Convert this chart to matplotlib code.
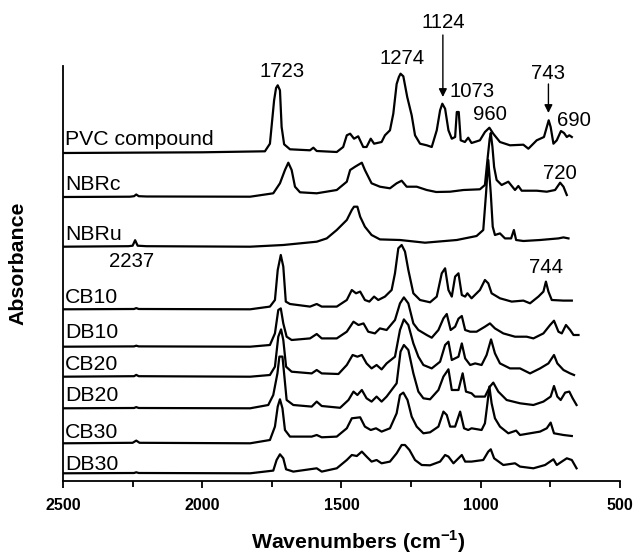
import matplotlib.pyplot as plt
import numpy as np

plt.rcParams['font.family'] = ['Liberation Sans', 'DejaVu Sans']
plt.rcParams['mathtext.fontset'] = 'custom'
plt.rcParams['mathtext.rm'] = 'Liberation Sans'
plt.rcParams['mathtext.bf'] = 'Liberation Sans:bold'

# spectra: (wavenumber cm-1, absorbance in arbitrary units above own baseline)
pvc = [(2500, 0), (2000, 0.7), (1775, 1.7), (1757, 9.3), (1742, 52.7), (1735, 65), (1729, 67.7),
       (1721, 62.7), (1715, 26), (1706, 8.7), (1685, 3.7), (1613, 2.7), (1601, 5.3), (1589, 2),
       (1517, 1), (1494, 6), (1481, 17.7), (1469, 19.3), (1455, 14.3), (1440, 16.7), (1422, 6),
       (1410, 6), (1395, 14.3), (1383, 9.3), (1356, 11), (1344, 17.7), (1326, 22.7), (1314, 39.3),
       (1302, 69), (1294, 76), (1288, 79.3), (1278, 76.7), (1264, 56), (1248, 37.7), (1236, 17.7),
       (1218, 9.3), (1194, 7.7), (1176, 6), (1158, 22.7), (1146, 42.7), (1138, 49.3), (1128, 44.3),
       (1116, 22.7), (1104, 14.3), (1092, 16), (1086, 41), (1079, 41), (1072, 12.7), (1057, 11),
       (1045, 15.3), (1033, 10), (1003, 12.7), (985, 21), (969, 25.3), (955, 19.3), (931, 11),
       (895, 7.7), (847, 8.3), (829, 4.3), (799, 12.7), (773, 16), (756, 32.7), (749, 26),
       (739, 9.3), (727, 12.7), (712, 22), (701, 20), (691, 16), (682, 17.7), (673, 16)]

nbrc = [(2500, 0), (2260, 0.3), (2245, 0.8), (2237, 2.5), (2228, 0.8), (2200, 0.5), (1828, 0.3),
        (1745, 3.7), (1721, 13.7), (1703, 27), (1691, 34.3), (1679, 27), (1667, 10.3), (1649, 4.7),
        (1589, 3.7), (1517, 7), (1481, 15.3), (1469, 27), (1451, 30.3), (1427, 34.3), (1416, 27),
        (1392, 13.7), (1362, 10.3), (1326, 8.7), (1302, 13.7), (1284, 16.3), (1266, 10.3),
        (1230, 10.3), (1194, 7), (1160, 5), (1110, 5.3), (1062, 7), (1003, 7.7), (985, 12),
        (976, 37), (968, 58), (964, 64), (958, 50), (952, 30), (943, 17), (925, 12), (901, 15.3),
        (877, 7), (865, 11), (853, 6.3), (799, 6.3), (763, 5.3), (733, 7), (715, 14.3),
        (703, 10.3), (691, 2)]

nbru = [(2500, 0), (2265, 0.5), (2250, 1), (2241, 6.5), (2232, 1), (2200, 0.5), (1828, 0),
        (1709, 1.7), (1589, 5), (1553, 8.3), (1517, 16.7), (1481, 26.7), (1463, 36.7), (1455, 40),
        (1443, 40), (1433, 30), (1416, 20), (1392, 11.7), (1362, 7.3), (1290, 6.7), (1200, 4),
        (1086, 6.7), (1015, 10.7), (991, 16.7), (981, 53.3), (973, 86.7), (964, 53.3), (957, 20),
        (949, 11.7), (931, 13.3), (913, 8.3), (891, 8.3), (881, 16.7), (873, 6.7), (847, 5.7),
        (787, 6.7), (721, 8.3), (703, 9.3), (685, 8.3)]

cb10 = [(2500, 0), (2245, 0.3), (2237, 1.2), (2228, 0.3), (1828, 0), (1757, 2.7), (1739, 9.3),
        (1729, 39.3), (1718, 54.3), (1709, 42.7), (1700, 7.7), (1685, 5.3), (1613, 2.7), (1589, 5.3),
        (1571, 2.7), (1517, 2.7), (1481, 9.3), (1463, 19.3), (1448, 16), (1433, 17.7), (1416, 9.3),
        (1400, 7.7), (1383, 12.7), (1368, 9.3), (1344, 12.7), (1320, 19.3), (1308, 36), (1296, 61),
        (1284, 64.3), (1272, 57.7), (1260, 39.3), (1242, 16), (1218, 9.3), (1182, 7), (1158, 12.7),
        (1140, 36), (1128, 41), (1116, 19.3), (1104, 12.7), (1092, 32.7), (1080, 36), (1068, 14.3),
        (1056, 12.7), (1048, 16), (1033, 11), (1003, 19.3), (985, 29.3), (973, 26), (961, 16),
        (931, 11), (889, 7.7), (847, 8.7), (823, 6), (793, 12.7), (775, 17.7), (766, 27.7),
        (757, 17.7), (745, 9.3), (703, 8.7), (673, 8.7)]

db10 = [(2500, 0), (2245, 0.3), (2237, 1), (2228, 0.3), (1828, 0), (1757, 1.7), (1739, 13.3),
        (1727, 36.7), (1718, 38.3), (1709, 23.3), (1697, 10), (1679, 6.7), (1613, 8.3), (1589, 12.7),
        (1571, 8.3), (1517, 8.3), (1481, 15), (1457, 25), (1439, 21.7), (1421, 23.3), (1404, 15),
        (1380, 13.3), (1362, 18.3), (1338, 16.7), (1308, 26.7), (1290, 43.3), (1276, 49.3),
        (1260, 43.3), (1242, 23.3), (1224, 16.7), (1194, 11.7), (1176, 9), (1152, 16.7),
        (1134, 28.3), (1122, 32.7), (1108, 16.7), (1092, 20), (1080, 28), (1068, 30.7), (1056, 16.7),
        (1038, 15), (1015, 15), (985, 20), (967, 23.3), (949, 18.3), (919, 13.3), (877, 10),
        (835, 10), (811, 8.3), (775, 13.3), (751, 21.7), (737, 26), (721, 15), (709, 13.3),
        (694, 21.7), (679, 16.7), (667, 11.7), (649, 11.7)]

cb20 = [(2500, 0), (2245, 0.5), (2237, 1.8), (2228, 0.5), (1828, 0), (1757, 1.7), (1739, 10),
        (1727, 40), (1717, 47.3), (1709, 36.7), (1699, 10), (1679, 5), (1607, 3.3), (1589, 6.7),
        (1571, 3.3), (1511, 2.7), (1481, 11.7), (1460, 21.7), (1443, 20), (1427, 21.7), (1410, 13.3),
        (1392, 8.3), (1374, 11.7), (1356, 7.3), (1338, 13.3), (1308, 20), (1290, 46.7), (1276, 57.3),
        (1260, 51.7), (1242, 33.3), (1224, 20), (1206, 11.7), (1176, 8.3), (1146, 15), (1128, 31.7),
        (1116, 35), (1104, 16.7), (1080, 20), (1068, 33.3), (1056, 18.3), (1038, 11.7), (1020, 13.3),
        (997, 11.7), (979, 21.7), (963, 37.3), (949, 23.3), (931, 13.3), (895, 8.3), (859, 8.3),
        (823, 3.3), (787, 8.3), (757, 13.3), (737, 21.7), (725, 13.3), (703, 6.7), (679, 3.3),
        (665, 1.7)]

db20 = [(2500, 0), (2245, 0.3), (2237, 1.2), (2228, 0.3), (1828, 0), (1763, 3.3), (1745, 13.3),
        (1730, 35), (1723, 51.7), (1712, 51.7), (1705, 31.7), (1697, 8.3), (1673, 3.3), (1607, 1.7),
        (1589, 6.7), (1571, 2.3), (1505, 0.5), (1475, 8.3), (1457, 16.7), (1443, 13.3), (1427, 18.3),
        (1410, 10), (1392, 6.7), (1374, 11.7), (1356, 6.7), (1338, 11.7), (1302, 25), (1288, 56.7),
        (1276, 63.3), (1260, 58.3), (1242, 35), (1224, 16.7), (1206, 10), (1182, 9), (1152, 18.3),
        (1134, 31.7), (1116, 39), (1104, 18.3), (1080, 18.3), (1065, 35), (1053, 16.7), (1033, 15),
        (1021, 11.7), (985, 11.7), (967, 21.7), (955, 25.7), (937, 16.7), (907, 8.3), (859, 5),
        (811, 3.3), (775, 6.7), (749, 11.7), (737, 22.3), (725, 11.7), (713, 8.3), (697, 15.7),
        (682, 16.7), (670, 10), (656, 3.3)]

cb30 = [(2500, 0), (2250, 0.5), (2237, 2.7), (2225, 0.5), (1828, 0), (1757, 3.3), (1739, 16.7),
        (1729, 36.7), (1721, 44), (1712, 35), (1703, 13.3), (1685, 6.7), (1607, 6.7), (1589, 8.3),
        (1571, 6), (1517, 6.7), (1481, 15), (1463, 25), (1433, 26), (1416, 16.7), (1395, 13.3),
        (1376, 15), (1356, 11.7), (1326, 15), (1302, 30), (1290, 48.3), (1278, 50.7), (1263, 43.3),
        (1248, 26.7), (1230, 16.7), (1206, 10), (1182, 11), (1152, 16.7), (1134, 31.7), (1122, 28.3),
        (1110, 16.7), (1092, 16.7), (1074, 31.7), (1060, 15), (1045, 13.3), (1033, 15), (997, 13.3),
        (985, 20), (976, 40), (969, 56.7), (961, 40), (949, 25), (931, 16.7), (901, 10),
        (873, 12.7), (859, 8.3), (823, 10), (787, 11.7), (763, 15), (749, 20.7), (737, 10),
        (703, 8.3), (673, 7.3)]

db30 = [(2500, 0), (2245, 0.3), (2237, 1), (2228, 0.3), (1828, 0), (1745, 2.7), (1733, 13.3),
        (1721, 19), (1709, 15), (1699, 4), (1673, 1.7), (1589, 5), (1571, 1.7), (1517, 5),
        (1481, 13.3), (1463, 18.3), (1445, 17.3), (1427, 21.7), (1410, 16.7), (1392, 11.7),
        (1374, 13.3), (1356, 10), (1326, 11.7), (1302, 20), (1284, 28.3), (1272, 28.3), (1256, 23.3),
        (1236, 13.3), (1212, 8.3), (1182, 8), (1146, 11.7), (1128, 18.3), (1116, 16.7), (1098, 10),
        (1080, 15), (1068, 18.3), (1056, 11.7), (1033, 11.7), (991, 13.3), (973, 21.7), (964, 24),
        (952, 15), (919, 8.3), (877, 10), (859, 6.7), (811, 5), (769, 8.3), (739, 14), (727, 8.3),
        (709, 11.7), (691, 15), (673, 13.3), (656, 5)]

names = ['PVC compound', 'NBRc', 'NBRu', 'CB10', 'DB10', 'CB20', 'DB20', 'CB30', 'DB30']
spectra = [pvc, nbrc, nbru, cb10, db10, cb20, db20, cb30, db30]
offsets = [328, 284, 234.3, 171.7, 134.3, 104.3, 72.7, 37.7, 7.7]
label_lift = [8, 6.7, 6.7, 6.3, 8.7, 6.7, 7.6, 5, 3.3]

peak_labels = ['1723', '1274', '1124', '1073', '960', '743', '690', '720', '2237', '744']
peak_label_xy = [(1715, 403.7), (1281, 417), (1134, 452.7), (1030, 383.7), (968, 361),
                 (759, 401.7), (665, 355), (715, 302), (2253, 213.7), (767, 207.7)]
arrows = [((1136, 446), (1136, 384)), ((757, 397), (757, 368))]

fig = plt.figure(figsize=(6.37, 5.56), dpi=100)
ax = fig.add_axes([63 / 637, 1 - 481 / 556, 557 / 637, 415 / 556])

for name, spec, off, lift in zip(names, spectra, offsets, label_lift):
    wn, a = zip(*spec)
    ax.plot(wn, np.array(a) + off, color='black', lw=1.6)
    ax.text(2492, off + lift, name, fontsize=15.3, ha='left', va='baseline')

for lab, (x, y) in zip(peak_labels, peak_label_xy):
    ax.text(x, y, lab, fontsize=14.7, ha='center', va='baseline', clip_on=False)

for start, end in arrows:
    ax.annotate('', xy=end, xytext=start, annotation_clip=False,
                arrowprops=dict(arrowstyle='-|>', color='black', lw=1.0,
                                mutation_scale=12, shrinkA=0, shrinkB=0))

ax.set_xlim(2500, 500)
ax.set_ylim(0, 415)
ax.spines['top'].set_visible(False)
ax.spines['right'].set_visible(False)
for s in ['left', 'bottom']:
    ax.spines[s].set_linewidth(1.3)
ax.set_yticks([])
ax.set_xticks([2500, 2000, 1500, 1000, 500])
ax.set_xticks([2250, 1750, 1250, 750], minor=True)
ax.tick_params(axis='x', which='major', direction='out', length=5, width=1.3, pad=7.5,
               labelsize=11.6)
ax.tick_params(axis='x', which='minor', direction='out', length=4.5, width=1.3)
for t in ax.get_xticklabels():
    t.set_fontweight('bold')

fig.text(18 / 637, 1 - 263 / 556, 'Absorbance', rotation=90, fontsize=15.3,
         fontweight='bold', ha='center', va='center')
fig.text(358 / 637, 7 / 556, r'Wavenumbers (cm$^{\mathbf{-1}}$)', fontsize=15.3,
         fontweight='bold', ha='center', va='baseline')

fig.savefig('out.png', dpi=100)
